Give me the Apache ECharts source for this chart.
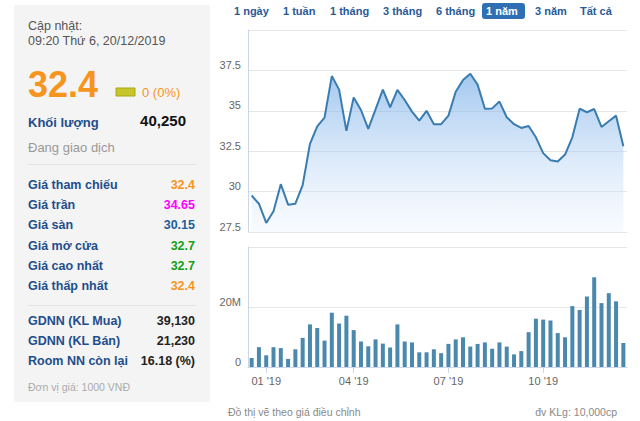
<!DOCTYPE html>
<html>
<head>
<meta charset="utf-8">
<script src="https://cdn.jsdelivr.net/npm/echarts@6/dist/echarts.min.js"></script>
<style>
html,body{margin:0;padding:0;background:#fff;}
#c{width:640px;height:421px;}
</style>
</head>
<body>
<div id="c"></div>
<script>
// Weekly categories (week starting date)
var weeks = ["2018-12-24","2018-12-31","2019-01-07","2019-01-14","2019-01-21","2019-01-28","2019-02-04","2019-02-11","2019-02-18","2019-02-25",
  "2019-03-04","2019-03-11","2019-03-18","2019-03-25","2019-04-01","2019-04-08","2019-04-15","2019-04-22","2019-04-29","2019-05-06",
  "2019-05-13","2019-05-20","2019-05-27","2019-06-03","2019-06-10","2019-06-17","2019-06-24","2019-07-01","2019-07-08","2019-07-15",
  "2019-07-22","2019-07-29","2019-08-05","2019-08-12","2019-08-19","2019-08-26","2019-09-02","2019-09-09","2019-09-16","2019-09-23",
  "2019-09-30","2019-10-07","2019-10-14","2019-10-21","2019-10-28","2019-11-04","2019-11-11","2019-11-18","2019-11-25","2019-12-02",
  "2019-12-09","2019-12-16"];
// Adjusted price (x1000 VND)
var price = [29.76, 29.25, 28.06, 28.78, 30.46, 29.19, 29.25, 30.40, 32.95, 34.04,
  34.58, 37.15, 36.31, 33.76, 35.83, 35.05, 33.88, 35.09, 36.31, 35.22,
  36.29, 35.67, 34.95, 34.39, 35.0, 34.17, 34.17, 34.70, 36.18, 36.90,
  37.29, 36.62, 35.13, 35.15, 35.57, 34.60, 34.17, 33.94, 34.06, 33.36,
  32.38, 31.94, 31.86, 32.29, 33.36, 35.13, 34.91, 35.11, 34.0, 34.35,
  34.70, 32.81];
// Volume (millions)
var volume = [3.0, 6.6, 3.9, 6.6, 6.3, 2.7, 5.9, 9.7, 14.2, 13.0,
  8.8, 18.1, 14.5, 17.1, 12.3, 8.5, 6.9, 9.2, 7.8, 6.5,
  14.2, 8.5, 8.2, 4.9, 4.9, 5.9,
  4.6, 7.7, 9.2, 9.9, 6.8, 7.7, 8.2, 6.1, 8.2, 6.8, 4.2, 5.3,
  11.6, 16.1, 15.8, 15.5, 11.3, 9.9, 20.3, 19.0, 23.5, 29.9, 21.3, 24.6, 21.9, 8.0];
// X tick labels
var tickIndex = [2, 14, 27, 40];
var tickLabels = ["01 '19", "04 '19", "07 '19", "10 '19"];
// Left panel info
var infoLabels = ["Giá tham chiếu", "Giá trần", "Giá sàn", "Giá mở cửa", "Giá cao nhất", "Giá thấp nhất"];
var infoValues = ["32.4", "34.65", "30.15", "32.7", "32.7", "32.4"];
var gdnnLabels = ["GDNN (KL Mua)", "GDNN (KL Bán)", "Room NN còn lại"];
var gdnnValues = ["39,130", "21,230", "16.18 (%)"];
var rangeButtons = ["1 ngày", "1 tuần", "1 tháng", "3 tháng", "6 tháng", "1 năm", "3 năm", "Tất cả"];

var FONT = 'Arial, "Liberation Sans", sans-serif';
var chart = echarts.init(document.getElementById('c'), null, {renderer: 'svg'});

function txt(text, x, y, size, color, weight, align) {
  return {type: 'text', silent: true, style: {
    text: text, x: x, y: y, fill: color,
    font: (weight || 'normal') + ' ' + size + 'px ' + FONT,
    align: align || 'left', verticalAlign: 'middle',
    textAlign: align || 'left', textVerticalAlign: 'middle'
  }};
}

var valueColors = ['#f7941d', '#ff00ff', '#1f5c98', '#15a015', '#15a015', '#f7941d'];
var graphics = [];
graphics.push({type: 'rect', silent: true, shape: {x: 14, y: 5, width: 196, height: 397}, style: {fill: '#f4f4f4'}});
graphics.push(txt('Cập nhật:', 28, 26, 12.5, '#555'));
graphics.push(txt('09:20 Thứ 6, 20/12/2019', 28, 41, 12.5, '#555'));
graphics.push(txt('32.4', 28, 84, 36, '#f7941d', 'bold'));
graphics.push({type: 'rect', silent: true, shape: {x: 116, y: 88, width: 19, height: 8}, style: {fill: '#c6c62a', stroke: '#a8a818', lineWidth: 1}});
graphics.push(txt('0 (0%)', 142, 92, 13, '#f7941d'));
graphics.push(txt('Khối lượng', 28, 122, 13, '#1f4e8c', 'bold'));
graphics.push(txt('40,250', 186, 120, 15, '#111', 'bold', 'right'));
graphics.push(txt('Đang giao dịch', 28, 147, 13, '#999'));
graphics.push({type: 'line', silent: true, shape: {x1: 28, y1: 164.5, x2: 196, y2: 164.5}, style: {stroke: '#e4e4e4', lineWidth: 1}});
for (var i = 0; i < infoLabels.length; i++) {
  var yy = 185 + i * 20.2;
  graphics.push(txt(infoLabels[i], 28, yy, 12.5, '#1f4e8c', 'bold'));
  graphics.push(txt(infoValues[i], 195, yy, 12.5, valueColors[i], 'bold', 'right'));
}
graphics.push({type: 'line', silent: true, shape: {x1: 28, y1: 305.5, x2: 196, y2: 305.5}, style: {stroke: '#e4e4e4', lineWidth: 1}});
for (var j = 0; j < gdnnLabels.length; j++) {
  var y2 = 321 + j * 20;
  graphics.push(txt(gdnnLabels[j], 28, y2, 12.5, '#1f4e8c', 'bold'));
  graphics.push(txt(gdnnValues[j], 195, y2, 12.5, '#222', 'bold', 'right'));
}
graphics.push(txt('Đơn vị giá: 1000 VNĐ', 28, 387, 10.5, '#aaa'));

// Range buttons
var btnX = [234, 283, 330, 383, 436, 486, 535, 580];
graphics.push({type: 'rect', silent: true, shape: {x: 482, y: 3, width: 43, height: 16, r: 3}, style: {fill: '#2f6fb3'}});
for (var k = 0; k < rangeButtons.length; k++) {
  var active = rangeButtons[k] === '1 năm';
  graphics.push(txt(rangeButtons[k], btnX[k], 11, 11, active ? '#fff' : '#2a5a98', 'bold'));
}
graphics.push(txt('Đồ thị vẽ theo giá điều chỉnh', 228, 412, 10.5, '#888'));
graphics.push(txt('đv KLg: 10,000cp', 617, 412, 10.5, '#888', 'normal', 'right'));

var tickSet = {};
tickIndex.forEach(function (t, n) { tickSet[t] = tickLabels[n]; });

chart.setOption({
  animation: false,
  textStyle: {fontFamily: FONT},
  grid: [
    {left: 248, top: 30, width: 379, height: 202},
    {left: 248, top: 247, width: 379, height: 120}
  ],
  xAxis: [
    {type: 'category', gridIndex: 0, data: weeks, boundaryGap: true,
     axisLine: {show: true, lineStyle: {color: '#e6e6e6'}}, axisTick: {show: false}, axisLabel: {show: false}, splitLine: {show: false}},
    {type: 'category', gridIndex: 1, data: weeks, boundaryGap: true,
     axisLine: {show: true, lineStyle: {color: '#ccd6eb'}},
     axisTick: {show: true, alignWithLabel: true, length: 6, lineStyle: {color: '#ccd6eb'},
       interval: function (idx) { return tickSet.hasOwnProperty(idx); }},
     axisLabel: {show: true, color: '#666', fontSize: 11, margin: 8,
       interval: function (idx) { return tickSet.hasOwnProperty(idx); },
       formatter: function (v, idx) { return tickSet[idx] || ''; }},
     splitLine: {show: false}}
  ],
  yAxis: [
    {type: 'value', gridIndex: 0, min: 27.5, max: 40, interval: 2.5,
     axisLine: {show: true, lineStyle: {color: '#ccd6eb'}}, axisTick: {show: false},
     axisLabel: {color: '#666', fontSize: 11, margin: 7, showMaxLabel: false, verticalAlign: 'bottom'},
     splitLine: {show: true, lineStyle: {color: '#e6e6e6'}}},
    {type: 'value', gridIndex: 1, min: 0, max: 40, interval: 20,
     axisLine: {show: true, lineStyle: {color: '#ccd6eb'}}, axisTick: {show: false},
     axisLabel: {color: '#666', fontSize: 11, margin: 7, showMaxLabel: false, verticalAlign: 'bottom',
       formatter: function (v) { return v === 0 ? '0' : v + 'M'; }},
     splitLine: {show: true, lineStyle: {color: '#e6e6e6'}}}
  ],
  series: [
    {type: 'line', xAxisIndex: 0, yAxisIndex: 0, data: price, symbol: 'none',
     lineStyle: {color: '#3a7cb0', width: 2},
     areaStyle: {color: new echarts.graphic.LinearGradient(0, 0, 0, 1, [
       {offset: 0, color: 'rgba(116,172,232,0.95)'},
       {offset: 1, color: 'rgba(230,240,252,0.4)'}])}},
    {type: 'bar', xAxisIndex: 1, yAxisIndex: 1, data: volume, barWidth: 4,
     itemStyle: {color: '#4a88ae'}}
  ],
  graphic: graphics
});
</script>
</body>
</html>
